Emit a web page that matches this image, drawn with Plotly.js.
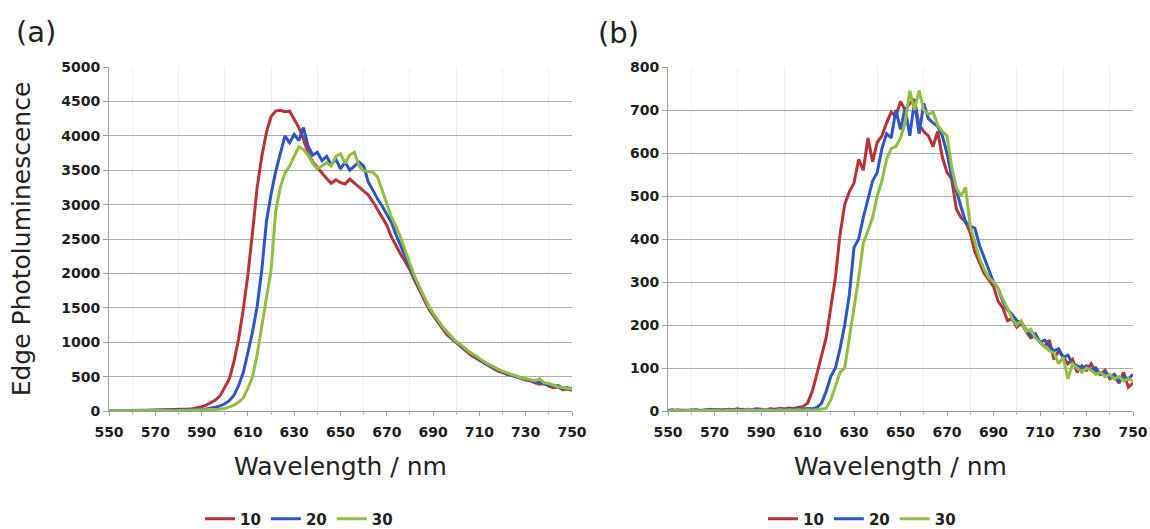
<!DOCTYPE html>
<html>
<head>
<meta charset="utf-8">
<script src="https://cdn.plot.ly/plotly-3.0.1.min.js"></script>
<style>html,body{margin:0;padding:0;background:#fff;}#chart{width:1150px;height:529px;}</style>
</head>
<body>
<div id="chart"></div>
<script>
// Wavelength grid (nm)
const wavelength = [
550,552,554,556,558,560,562,564,566,568,
570,572,574,576,578,580,582,584,586,588,
590,592,594,596,598,600,602,604,606,608,
610,612,614,616,618,620,622,624,626,628,
630,632,634,636,638,640,642,644,646,648,
650,652,654,656,658,660,662,664,666,668,
670,672,674,676,678,680,682,684,686,688,
690,692,694,696,698,700,702,704,706,708,
710,712,714,716,718,720,722,724,726,728,
730,732,734,736,738,740,742,744,746,748,
750];

const seriesNames = ['10', '20', '30'];

// Panel (a)
const a10 = [
5,4,6,5,7,6,8,7,9,10,
12,11,14,15,18,20,24,28,34,45,
62,85,120,160,220,340,470,720,1050,1480,
1980,2600,3250,3700,4050,4280,4360,4370,4350,4360,
4250,4120,3950,3750,3620,3540,3450,3380,3310,3360,
3320,3300,3370,3310,3260,3200,3140,3040,2930,2820,
2700,2530,2400,2280,2170,2050,1900,1760,1620,1490,
1390,1290,1200,1110,1050,990,930,880,820,780,
740,700,650,620,580,560,530,520,490,470,
450,440,410,390,400,360,340,350,310,320,
300];
const a20 = [
3,4,3,5,4,5,6,5,6,7,
6,8,7,9,8,10,11,12,14,16,
20,28,40,55,75,105,150,230,370,560,
850,1150,1520,2050,2750,3150,3480,3720,4000,3900,
4020,3930,4120,3850,3720,3760,3640,3700,3580,3660,
3520,3620,3500,3560,3620,3560,3330,3210,3080,2980,
2860,2740,2560,2400,2250,2100,1930,1790,1650,1520,
1410,1310,1220,1140,1060,1000,950,890,840,790,
750,700,670,630,600,570,540,520,500,480,
460,450,430,420,390,380,360,370,330,340,
320];
const a30 = [
2,3,2,3,4,3,4,3,4,5,
4,5,5,6,5,6,7,7,8,9,
10,12,14,18,24,35,55,85,130,190,
330,500,820,1250,1650,2050,2900,3250,3460,3560,
3700,3840,3800,3720,3600,3520,3560,3610,3560,3700,
3740,3600,3720,3760,3560,3490,3480,3470,3400,3200,
3010,2820,2680,2520,2330,2140,1960,1810,1660,1530,
1420,1320,1230,1150,1080,1010,960,900,850,810,
760,720,680,640,610,580,550,530,510,480,
470,460,440,470,410,400,370,350,340,330,
320];

// Panel (b)
const b10 = [
2,0,3,1,2,0,3,1,2,4,
1,3,2,4,3,5,2,4,3,5,
4,3,5,4,6,5,7,6,8,10,
18,45,85,130,170,240,310,410,480,510,
530,585,560,635,580,625,640,670,695,685,
720,700,715,725,665,650,640,615,650,590,
555,540,470,450,440,414,370,345,320,305,
290,255,240,210,215,195,205,185,170,175,
160,150,165,120,140,125,110,120,90,105,
95,110,90,85,95,75,80,65,90,55,
65];
const b20 = [
1,3,0,2,1,3,2,1,3,2,
4,2,3,1,3,2,4,3,2,4,
3,2,4,3,4,3,5,4,5,4,
6,5,8,18,45,80,100,145,200,270,
380,400,450,495,535,555,610,645,635,700,
655,705,640,720,645,715,680,670,662,640,
600,545,514,475,440,430,425,385,355,325,
300,285,255,235,225,210,205,190,175,180,
160,165,150,140,145,125,130,110,105,100,
105,95,100,85,90,80,85,70,80,75,
85];
const b30 = [
0,1,2,0,1,2,1,0,2,1,
2,1,0,2,1,2,1,3,2,1,
2,3,2,1,3,2,3,2,3,2,
3,2,3,4,6,25,55,90,100,165,
240,310,390,420,450,500,535,585,610,615,
635,670,745,700,745,700,690,695,665,650,
640,568,520,500,520,430,390,355,330,310,
300,285,260,240,215,200,210,185,190,170,
160,150,140,135,110,125,75,110,100,90,
100,95,85,90,80,85,75,80,70,75,
70];

const xTicks = [550,570,590,610,630,650,670,690,710,730,750];
const colors = ['#b83236', '#2a56c6', '#8fbf3f'];

const tickFont = {family: 'DejaVu Sans', size: 14, color: '#1e1e1e', weight: 'bold'};
const titleFont = {family: 'DejaVu Sans', size: 25, color: '#222'};

function mk(y, i, xa, ya, lg) {
  return {
    x: wavelength, y: y, type: 'scatter', mode: 'lines',
    name: seriesNames[i], xaxis: xa, yaxis: ya, legend: lg,
    line: {color: colors[i], width: 3}
  };
}

const traces = [
  mk(a10, 0, 'x', 'y', 'legend'),
  mk(a20, 1, 'x', 'y', 'legend'),
  mk(a30, 2, 'x', 'y', 'legend'),
  mk(b10, 0, 'x2', 'y2', 'legend2'),
  mk(b20, 1, 'x2', 'y2', 'legend2'),
  mk(b30, 2, 'x2', 'y2', 'legend2')
];

function xaxisDef(domain, anchor) {
  return {
    domain: domain, anchor: anchor, range: [550, 750],
    tickvals: xTicks, ticktext: xTicks.map(String),
    showgrid: false, zeroline: false,
    showline: true, linecolor: '#8f9cb6', linewidth: 1,
    ticks: 'outside', ticklen: 4, tickcolor: '#9aa4b8',
    ticklabelstandoff: 4,
    tickfont: tickFont,
    minor: {tickvals: [560,580,600,620,640,660,680,700,720,740], showgrid: true, gridcolor: '#eceef2', gridwidth: 1, ticks: 'outside', ticklen: 3, tickcolor: '#b8bfcc'},
    title: {text: 'Wavelength / nm', font: titleFont, standoff: 18},
    automargin: false, fixedrange: true
  };
}
function yaxisDef(domain, anchor, range, dtick, title) {
  const ax = {
    domain: domain, anchor: anchor, range: range, dtick: dtick, tick0: 0,
    showgrid: true, gridcolor: '#a9aebb', gridwidth: 1,
    zeroline: false, showline: true, linecolor: '#a0a0a0', linewidth: 1,
    ticks: 'outside', ticklen: 5, tickcolor: '#a0a0a0',
    tickfont: tickFont, automargin: false, fixedrange: true
  };
  if (title) ax.title = {text: title, font: titleFont, standoff: 23};
  return ax;
}

const yDom = [(529 - 411) / 529, (529 - 67) / 529];

const legendFont = {family: 'DejaVu Sans', size: 15, color: '#222', weight: 'bold'};

const layout = {
  width: 1150, height: 529,
  margin: {l: 0, r: 0, t: 0, b: 0, autoexpand: false},
  paper_bgcolor: '#ffffff', plot_bgcolor: '#ffffff',
  font: {family: 'DejaVu Sans', color: '#222'},
  xaxis: xaxisDef([109 / 1150, 572 / 1150], 'y'),
  yaxis: yaxisDef(yDom, 'x', [0, 5000], 500, 'Edge Photoluminescence'),
  xaxis2: xaxisDef([668 / 1150, 1133 / 1150], 'y2'),
  yaxis2: yaxisDef(yDom, 'x2', [0, 800], 100, null),
  legend: {
    orientation: 'h', x: 299 / 1150, xanchor: 'center', y: 10 / 529, yanchor: 'middle',
    font: legendFont, bgcolor: 'rgba(0,0,0,0)', itemwidth: 30
  },
  legend2: {
    orientation: 'h', x: 862 / 1150, xanchor: 'center', y: 10 / 529, yanchor: 'middle',
    font: legendFont, bgcolor: 'rgba(0,0,0,0)', itemwidth: 30
  },
  annotations: [
    {text: '(a)', x: 36 / 1150, y: (529 - 32) / 529, xref: 'paper', yref: 'paper', showarrow: false,
     xanchor: 'center', yanchor: 'middle', font: {family: 'DejaVu Sans', size: 29, color: '#222'}},
    {text: '(b)', x: 618 / 1150, y: (529 - 33) / 529, xref: 'paper', yref: 'paper', showarrow: false,
     xanchor: 'center', yanchor: 'middle', font: {family: 'DejaVu Sans', size: 29, color: '#222'}}
  ],
  showlegend: true
};

Plotly.newPlot('chart', traces, layout, {staticPlot: true, displayModeBar: false});
</script>
</body>
</html>
